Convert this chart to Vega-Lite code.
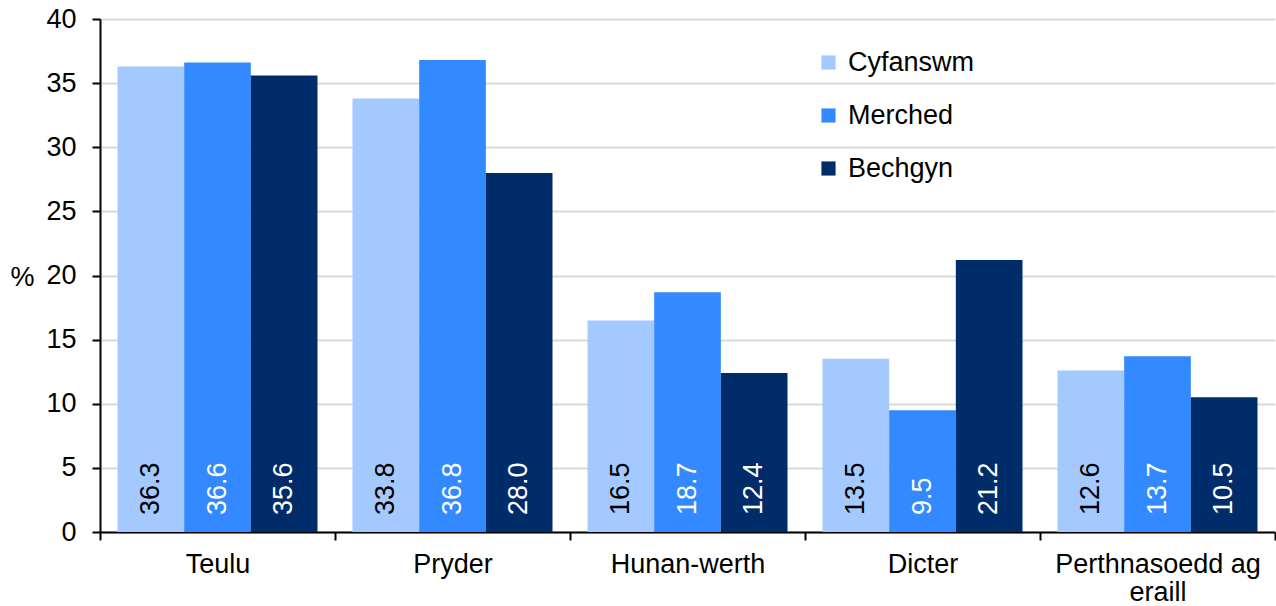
{
  "$schema": "https://vega.github.io/schema/vega-lite/v6.json",
  "width": 1175,
  "height": 513,
  "autosize": {"type": "none"},
  "padding": {"left": 100, "top": 19, "right": 1, "bottom": 74},
  "background": "white",
  "config": {
    "font": "Liberation Sans",
    "view": {"stroke": null},
    "axis": {"labelFont": "Liberation Sans", "titleFont": "Liberation Sans"}
  },
  "data": {
    "values": [
      {"category": "Teulu", "group": "Cyfanswm", "value": 36.3},
      {"category": "Teulu", "group": "Merched", "value": 36.6},
      {"category": "Teulu", "group": "Bechgyn", "value": 35.6},
      {"category": "Pryder", "group": "Cyfanswm", "value": 33.8},
      {"category": "Pryder", "group": "Merched", "value": 36.8},
      {"category": "Pryder", "group": "Bechgyn", "value": 28.0},
      {"category": "Hunan-werth", "group": "Cyfanswm", "value": 16.5},
      {"category": "Hunan-werth", "group": "Merched", "value": 18.7},
      {"category": "Hunan-werth", "group": "Bechgyn", "value": 12.4},
      {"category": "Dicter", "group": "Cyfanswm", "value": 13.5},
      {"category": "Dicter", "group": "Merched", "value": 9.5},
      {"category": "Dicter", "group": "Bechgyn", "value": 21.2},
      {"category": "Perthnasoedd ag eraill", "group": "Cyfanswm", "value": 12.6},
      {"category": "Perthnasoedd ag eraill", "group": "Merched", "value": 13.7},
      {"category": "Perthnasoedd ag eraill", "group": "Bechgyn", "value": 10.5}
    ]
  },
  "encoding": {
    "x": {
      "field": "category",
      "type": "nominal",
      "sort": ["Teulu", "Pryder", "Hunan-werth", "Dicter", "Perthnasoedd ag eraill"],
      "scale": {"paddingInner": 0, "paddingOuter": 0},
      "axis": {
        "title": null,
        "labelAngle": 0,
        "labelFontSize": 27,
        "labelColor": "#000000",
        "labelPadding": 11,
        "labelLineHeight": 28,
        "labelLimit": 0,
        "labelExpr": "datum.value == 'Perthnasoedd ag eraill' ? ['Perthnasoedd ag', 'eraill'] : datum.value",
        "tickBand": "extent",
        "tickSize": 8,
        "tickColor": "#000000",
        "tickWidth": 2,
        "domainColor": "#000000",
        "domainWidth": 2,
        "grid": false
      }
    },
    "xOffset": {
      "field": "group",
      "type": "nominal",
      "sort": ["Cyfanswm", "Merched", "Bechgyn"],
      "scale": {"paddingInner": 0, "paddingOuter": 0.2625}
    },
    "y": {
      "field": "value",
      "type": "quantitative",
      "scale": {"domain": [0, 40]},
      "axis": {
        "title": "%",
        "titleAngle": 0,
        "titleFontSize": 27,
        "titleFontWeight": "normal",
        "titleColor": "#000000",
        "titleX": -78,
        "titleY": 258,
        "titleAlign": "center",
        "titleBaseline": "middle",
        "values": [0, 5, 10, 15, 20, 25, 30, 35, 40],
        "labelFontSize": 27,
        "labelColor": "#000000",
        "labelPadding": 16,
        "tickSize": 8,
        "tickColor": "#000000",
        "tickWidth": 2,
        "domainColor": "#000000",
        "domainWidth": 2,
        "gridColor": "#D9D9D9",
        "gridWidth": 2
      }
    }
  },
  "layer": [
    {
      "mark": {"type": "bar"},
      "encoding": {
        "color": {
          "field": "group",
          "type": "nominal",
          "sort": ["Cyfanswm", "Merched", "Bechgyn"],
          "scale": {
            "domain": ["Cyfanswm", "Merched", "Bechgyn"],
            "range": ["#A3C9FF", "#3389FF", "#002D6A"]
          },
          "legend": {
            "title": null,
            "orient": "none",
            "legendX": 715,
            "legendY": 30,
            "symbolType": "square",
            "symbolSize": 200,
            "symbolStrokeWidth": 0,
            "labelFontSize": 27,
            "labelColor": "#000000",
            "labelOffset": 6,
            "rowPadding": 25,
            "padding": 0
          }
        }
      }
    },
    {
      "mark": {
        "type": "text",
        "angle": 270,
        "align": "left",
        "baseline": "middle",
        "dx": 17,
        "fontSize": 27
      },
      "encoding": {
        "y": {"datum": 0},
        "text": {"field": "value", "type": "quantitative", "format": ".1f"},
        "color": {
          "condition": {"test": "datum.group == 'Cyfanswm'", "value": "#000000"},
          "value": "#FFFFFF"
        }
      }
    }
  ]
}
